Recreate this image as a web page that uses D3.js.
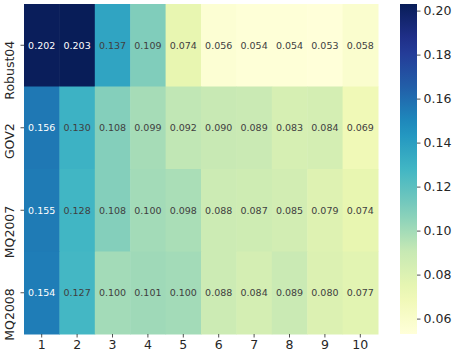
<!DOCTYPE html>
<html>
<head>
<meta charset="utf-8">
<script src="https://cdn.jsdelivr.net/npm/d3@7"></script>
<style>
  body { margin: 0; background: #fff; }
  svg text { font-family: "DejaVu Sans", sans-serif; }
  .tick text { fill: #262626; }
</style>
</head>
<body>
<svg width="457" height="357"></svg>
<script>
// the data
var datasets = ["Robust04", "GOV2", "MQ2007", "MQ2008"];
var steps = ["1", "2", "3", "4", "5", "6", "7", "8", "9", "10"];
var robust04 = [0.202, 0.203, 0.137, 0.109, 0.074, 0.056, 0.054, 0.054, 0.053, 0.058];
var gov2     = [0.156, 0.130, 0.108, 0.099, 0.092, 0.090, 0.089, 0.083, 0.084, 0.069];
var mq2007   = [0.155, 0.128, 0.108, 0.100, 0.098, 0.088, 0.087, 0.085, 0.079, 0.074];
var mq2008   = [0.154, 0.127, 0.100, 0.101, 0.100, 0.088, 0.084, 0.089, 0.080, 0.077];
var colorbarTicks = [0.06, 0.08, 0.10, 0.12, 0.14, 0.16, 0.18, 0.20];

var rows = [robust04, gov2, mq2007, mq2008];

// flatten into cells
var cells = [];
rows.forEach(function(vals, i) {
    vals.forEach(function(v, j) {
        cells.push({row: datasets[i], col: steps[j], value: v});
    });
});

var svg = d3.select("svg");
var FONT = "DejaVu Sans";

// plot area (window.top is reserved, so plot* names)
var plotLeft = 24, plotTop = 4, plotRight = 378, plotBottom = 334;

var x = d3.scaleBand().domain(steps).range([plotLeft, plotRight]);
var y = d3.scaleBand().domain(datasets).range([plotTop, plotBottom]);

var vmin = d3.min(cells, function(d) { return d.value; }),
    vmax = d3.max(cells, function(d) { return d.value; });

// YlGnBu, linear between the colorbrewer stops (like matplotlib)
var ylgnbu = ["#ffffd9","#edf8b1","#c7e9b4","#7fcdbb","#41b6c4","#1d91c0","#225ea8","#253494","#081d58"];
var interp = d3.piecewise(d3.interpolateRgb, ylgnbu);
var color = d3.scaleSequential(interp).domain([vmin, vmax]);

//////////// CELLS ////////////
svg.append("g")
    .selectAll("rect")
    .data(cells)
    .enter().append("rect")
    .attr("x", function(d) { return x(d.col); })
    .attr("y", function(d) { return y(d.row); })
    .attr("width", x.bandwidth() + 0.5)
    .attr("height", y.bandwidth() + 0.5)
    .attr("fill", function(d) { return color(d.value); });

// annotations
svg.append("g")
    .attr("font-family", FONT)
    .selectAll("text")
    .data(cells)
    .enter().append("text")
    .attr("x", function(d) { return x(d.col) + x.bandwidth() / 2; })
    .attr("y", function(d) { return y(d.row) + y.bandwidth() / 2; })
    .attr("text-anchor", "middle")
    .attr("dy", "0.36em")
    .style("font-size", "9.5px")
    .style("fill", function(d) {
        var c = d3.rgb(color(d.value));
        var lum = 0.2126 * c.r + 0.7152 * c.g + 0.0722 * c.b;
        return lum < 130 ? "#ffffff" : "#404040";
    })
    .text(function(d) { return d3.format(".3f")(d.value); });

//////////// AXES ////////////
var xAxis = svg.append("g")
    .attr("transform", "translate(0," + plotBottom + ")")
    .call(d3.axisBottom(x).tickSize(3.5).tickPadding(3))
    .attr("font-family", FONT);
xAxis.select(".domain").remove();
xAxis.selectAll("text").style("font-size", "12.5px");
xAxis.selectAll("line").attr("stroke", "#262626").attr("stroke-width", 0.8);

var yAxis = svg.append("g")
    .attr("transform", "translate(" + plotLeft + ",0)")
    .call(d3.axisLeft(y).tickSize(3.5).tickPadding(3))
    .attr("font-family", FONT);
yAxis.select(".domain").remove();
yAxis.selectAll("line").attr("stroke", "#262626").attr("stroke-width", 0.8);
// rotated labels hang below the tick, string end just above it
yAxis.selectAll("text")
    .style("font-size", "12.5px")
    .attr("text-anchor", "end")
    .attr("x", 0)
    .attr("dy", 0)
    .attr("transform", "translate(-10,-4.5) rotate(-90)");

//////////// COLORBAR ////////////
var cbX = 400, cbW = 17;
var cbScale = d3.scaleLinear().domain([vmin, vmax]).range([plotBottom, plotTop]);

var defs = svg.append("defs");
var grad = defs.append("linearGradient")
    .attr("id", "cbgrad")
    .attr("x1", 0).attr("y1", 1).attr("x2", 0).attr("y2", 0);
grad.selectAll("stop")
    .data(d3.range(0, 1.0001, 0.05))
    .enter().append("stop")
    .attr("offset", function(t) { return t; })
    .attr("stop-color", function(t) { return interp(t); });

svg.append("rect")
    .attr("x", cbX)
    .attr("y", plotTop)
    .attr("width", cbW)
    .attr("height", plotBottom - plotTop)
    .attr("fill", "url(#cbgrad)");

var cbAxis = svg.append("g")
    .attr("transform", "translate(" + (cbX + cbW) + ",0)")
    .call(d3.axisRight(cbScale).tickValues(colorbarTicks).tickFormat(d3.format(".2f")).tickSize(3.5).tickPadding(3))
    .attr("font-family", FONT);
cbAxis.select(".domain").remove();
cbAxis.selectAll("text").style("font-size", "12.5px");
cbAxis.selectAll("line").attr("stroke", "#262626").attr("stroke-width", 0.8);
</script>
</body>
</html>
